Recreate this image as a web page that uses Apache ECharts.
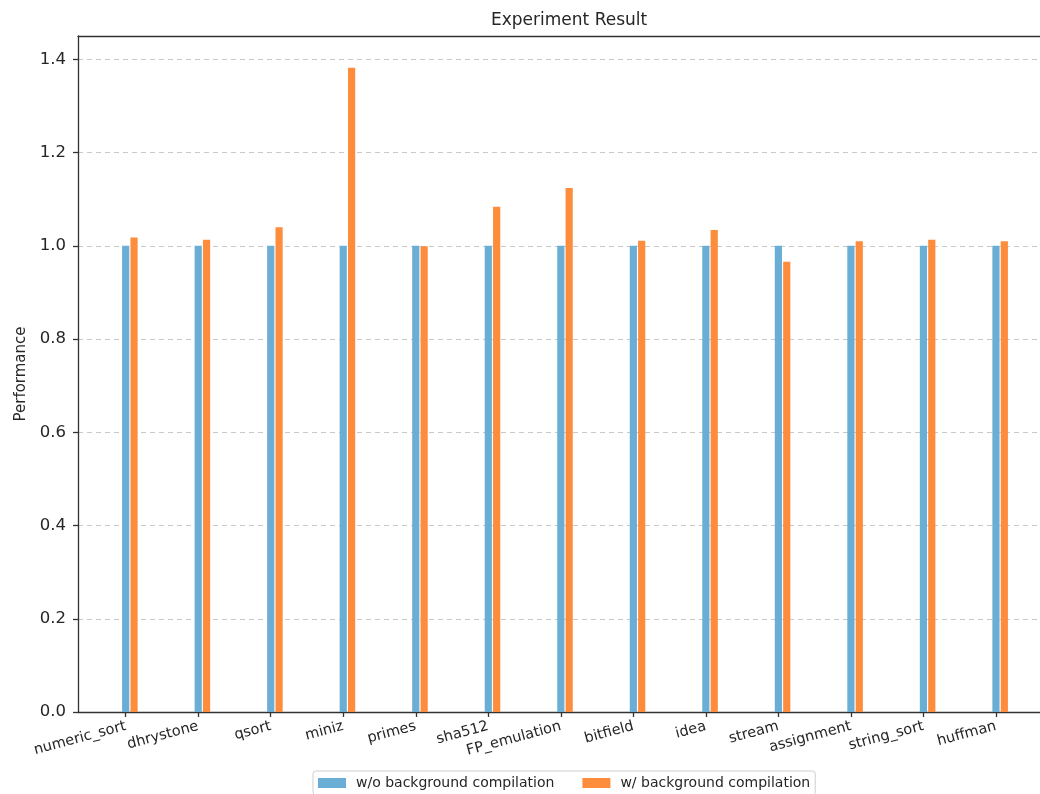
<!DOCTYPE html>
<html>
<head>
<meta charset="utf-8">
<title>Experiment Result</title>
<script src="https://cdn.jsdelivr.net/npm/echarts@6/dist/echarts.min.js"></script>
<style>
  html, body { margin: 0; padding: 0; background: #fff; }
  #chart { width: 1040px; height: 794px; }
</style>
</head>
<body>
<div id="chart"></div>
<script>
// Benchmarks and normalized performance
const categories = ['numeric_sort', 'dhrystone', 'qsort', 'miniz', 'primes', 'sha512',
  'FP_emulation', 'bitfield', 'idea', 'stream', 'assignment', 'string_sort', 'huffman'];
const withoutBg = [1.0, 1.0, 1.0, 1.0, 1.0, 1.0, 1.0, 1.0, 1.0, 1.0, 1.0, 1.0, 1.0];
const withBg = [1.018, 1.013, 1.040, 1.382, 0.999, 1.084, 1.124, 1.011, 1.034, 0.966, 1.010, 1.013, 1.010];
const seriesNames = ['w/o background compilation', 'w/ background compilation'];
const yTicks = { min: 0, max: 1.45, interval: 0.2 };

const FONT = 'DejaVu Sans';
const INK = '#262626';
const SPINE = '#333';
const chart = echarts.init(document.getElementById('chart'), null, { renderer: 'canvas' });

const hiddenY = (grid) => ({
  type: 'value', gridIndex: grid, min: yTicks.min, max: yTicks.max, interval: yTicks.interval,
  show: false, splitLine: { show: false }
});

chart.setOption({
  animation: false,
  backgroundColor: '#fff',
  title: {
    text: 'Experiment Result',
    left: 486, top: 7,
    textStyle: { fontFamily: FONT, fontSize: 17, fontWeight: 'normal', color: INK }
  },
  legend: {
    data: seriesNames,
    left: 313, top: 771,
    icon: 'rect', itemWidth: 28, itemHeight: 10, itemGap: 28,
    padding: [5, 5, 5, 5],
    borderColor: '#cfcfcf', borderWidth: 1, borderRadius: 3,
    textStyle: { fontFamily: FONT, fontSize: 14, color: INK, padding: [0, 0, 0, 5] }
  },
  grid: [
    // frame with y axis and grid lines (right spine falls outside the canvas)
    { left: 78, right: -12, top: 36, bottom: 82 },
    // bars (pair offset so the first bar sits on the tick)
    { left: 93.6, right: 3.6, top: 36, bottom: 82 },
    // category ticks and labels
    { left: 89.4, right: 7.8, top: 36, bottom: 82 }
  ],
  xAxis: [
    { type: 'value', gridIndex: 0, min: 0, max: 1, position: 'bottom',
      axisLine: { show: true, onZero: false, lineStyle: { color: SPINE, width: 1.3 } },
      axisTick: { show: false }, axisLabel: { show: false }, splitLine: { show: false } },
    { type: 'value', gridIndex: 0, min: 0, max: 1, position: 'top',
      axisLine: { show: true, onZero: false, lineStyle: { color: SPINE, width: 1.3 } },
      axisTick: { show: false }, axisLabel: { show: false }, splitLine: { show: false } },
    { type: 'category', gridIndex: 1, data: categories, show: false },
    { type: 'category', gridIndex: 2, data: categories,
      axisLine: { show: false },
      axisTick: { show: true, alignWithLabel: true, length: 5, lineStyle: { color: SPINE, width: 1.3 } },
      axisLabel: { rotate: 15, margin: 14, interval: 0, fontFamily: FONT, fontSize: 14.5, color: INK } }
  ],
  yAxis: [
    { type: 'value', gridIndex: 0, min: yTicks.min, max: yTicks.max, interval: yTicks.interval,
      name: 'Performance', nameLocation: 'middle', nameGap: 49,
      nameTextStyle: { fontFamily: FONT, fontSize: 15, color: INK },
      axisLine: { show: true, onZero: false, lineStyle: { color: SPINE, width: 1.3 } },
      axisTick: { show: true, length: 5, lineStyle: { color: SPINE, width: 1.3 } },
      axisLabel: { showMaxLabel: false, margin: 12, fontFamily: FONT, fontSize: 16.5, color: INK,
        formatter: (v) => v.toFixed(1) },
      splitLine: { show: true, showMinLine: false, showMaxLine: false,
        lineStyle: { color: '#c8c8c8', type: [5, 4], width: 1 } } },
    hiddenY(1),
    hiddenY(2)
  ],
  series: [
    { name: seriesNames[0], type: 'bar', xAxisIndex: 2, yAxisIndex: 1, data: withoutBg,
      barWidth: 7.2, barGap: '16%', itemStyle: { color: '#6aaed6' } },
    { name: seriesNames[1], type: 'bar', xAxisIndex: 2, yAxisIndex: 1, data: withBg,
      barWidth: 7.2, itemStyle: { color: '#fd8d3c' } }
  ]
});
</script>
</body>
</html>
